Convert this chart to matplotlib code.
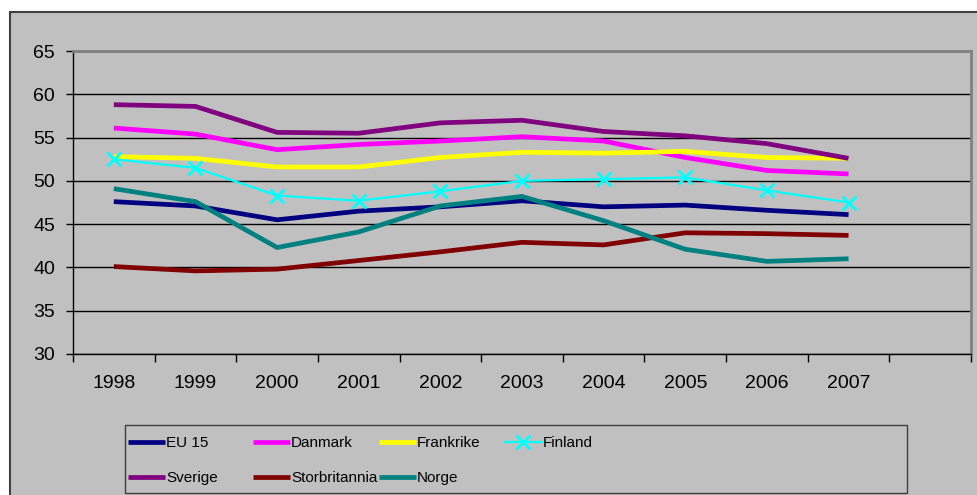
import numpy as np
import matplotlib
matplotlib.use("Agg")
import matplotlib.pyplot as plt
from matplotlib.patches import Rectangle

plt.rcParams['font.family'] = ['Liberation Sans', 'DejaVu Sans']

years = ['1998', '1999', '2000', '2001', '2002', '2003', '2004', '2005', '2006', '2007']

eu15 = [47.6, 47.1, 45.5, 46.5, 47.0, 47.7, 47.0, 47.2, 46.6, 46.1]
danmark = [56.1, 55.4, 53.6, 54.2, 54.6, 55.1, 54.6, 52.7, 51.2, 50.8]
frankrike = [52.8, 52.6, 51.6, 51.6, 52.7, 53.3, 53.2, 53.4, 52.7, 52.6]
finland = [52.5, 51.5, 48.3, 47.7, 48.8, 50.0, 50.2, 50.4, 48.9, 47.5]
sverige = [58.8, 58.6, 55.6, 55.5, 56.7, 57.0, 55.7, 55.2, 54.3, 52.6]
storbritannia = [40.1, 39.6, 39.8, 40.8, 41.8, 42.9, 42.6, 44.0, 43.9, 43.7]
norge = [49.1, 47.6, 42.3, 44.1, 47.1, 48.2, 45.4, 42.1, 40.7, 41.0]

W, H = 978, 495
fig = plt.figure(figsize=(W / 100, H / 100), dpi=100, facecolor='white')

# grey chart area with border
fig.patches.append(Rectangle((10 / W, -0.1), 1, 1.1 - 12 / H, transform=fig.transFigure,
                             facecolor='#c0c0c0', edgecolor='#404040', lw=1.5, zorder=-5))

ax = fig.add_axes([73 / W, 1 - 354 / H, (971 - 73) / W, (354 - 51) / H])
ax.set_facecolor('#c0c0c0')

x = np.arange(len(years))
thick = 3.4
ax.plot(x, eu15, color='#000080', lw=thick, label='EU 15', solid_capstyle='butt')
ax.plot(x, danmark, color='#ff00ff', lw=thick, label='Danmark', solid_capstyle='butt')
ax.plot(x, frankrike, color='#ffff00', lw=thick, label='Frankrike', solid_capstyle='butt')
ax.plot(x, finland, color='#00ffff', lw=1.6, marker='x', ms=10, mew=2, label='Finland')
ax.plot(x, sverige, color='#800080', lw=thick, label='Sverige', solid_capstyle='butt')
ax.plot(x, storbritannia, color='#800000', lw=thick, label='Storbritannia', solid_capstyle='butt')
ax.plot(x, norge, color='#008080', lw=thick, label='Norge', solid_capstyle='butt')

ax.set_ylim(30, 65)
ax.set_yticks(np.arange(30, 66, 5))
ax.set_xlim(-0.5, 10.5)
ax.set_xticks(np.arange(-0.5, 11, 1))
ax.set_xticklabels([])
ax.set_xticks(x, minor=True)
ax.set_xticklabels(years, minor=True)
ax.tick_params(axis='x', which='major', length=6, width=1, direction='out', color='black')
ax.tick_params(axis='x', which='minor', length=0, pad=15, labelsize=14)
ax.tick_params(axis='y', length=5, width=1, direction='out', pad=8, labelsize=14)
ax.yaxis.grid(True, color='black', lw=1)
ax.set_axisbelow(True)

for s in ['left', 'bottom']:
    ax.spines[s].set_color('black')
    ax.spines[s].set_linewidth(1)
for s in ['top', 'right']:
    ax.spines[s].set_color('#808080')
    ax.spines[s].set_linewidth(2)

# legend box, one legend per column so columns sit at fixed places
lx0, lx1, ly0, ly1 = 125, 907, 425, 493
fig.patches.append(Rectangle((lx0 / W, 1 - ly1 / H), (lx1 - lx0) / W, (ly1 - ly0) / H,
                             transform=fig.transFigure, facecolor='none',
                             edgecolor='#404040', lw=1, zorder=5))
handles, labels = ax.get_legend_handles_labels()
col_x = [128, 253, 379, 505]
for j, cx in enumerate(col_x):
    fig.legend(handles[j::4], labels[j::4], loc='upper left',
               bbox_to_anchor=(cx / W, 1 - 436 / H),
               frameon=False, ncol=1, handlelength=2.4, handletextpad=0.1,
               labelspacing=1.38, borderpad=0, borderaxespad=0,
               prop={'family': 'Liberation Sans', 'size': 11})

fig.savefig('out.png', dpi=100, facecolor=fig.get_facecolor())
